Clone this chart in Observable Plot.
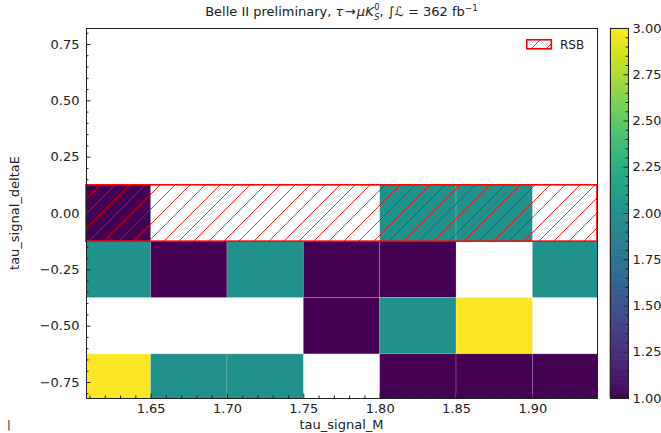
<!DOCTYPE html>
<html><head><meta charset="utf-8">
<script src="https://cdn.jsdelivr.net/npm/d3@7"></script>
<script src="https://cdn.jsdelivr.net/npm/@observablehq/plot@0.6"></script>
<style>
body{margin:0;background:#fff}
#wrap{position:relative;width:661px;height:433px;overflow:hidden;font-family:"DejaVu Sans",sans-serif;color:#222;background:#fff}
.plotsvg{position:absolute;top:0}
.t{position:absolute;white-space:nowrap;line-height:1}
.ss{display:inline-block;vertical-align:middle;font-size:0.64em;text-align:left;margin-left:0.5px}
.ss span{display:block;line-height:1.18}
</style></head><body><div id="wrap"></div>
<script>
// ---- data ----
const xEdges = [1.60, 1.65, 1.70, 1.75, 1.80, 1.85, 1.90, 1.95];
const yEdges = [0.125, -0.125, -0.375, -0.625, -0.875];
const row0 = [1, null, null, null, 2, 2, null];   // deltaE ~ 0.00
const row1 = [2, 1, 2, 1, 1, null, 2];            // deltaE ~ -0.25
const row2 = [null, null, null, 1, 2, 3, null];   // deltaE ~ -0.50
const row3 = [3, 2, 2, null, 1, 1, 1];            // deltaE ~ -0.75
const rows = [row0, row1, row2, row3];
const xTicks = [1.65, 1.70, 1.75, 1.80, 1.85, 1.90];
const yTicks = [-0.75, -0.5, -0.25, 0, 0.25, 0.5, 0.75];
const cbTicks = [1, 1.25, 1.5, 1.75, 2, 2.25, 2.5, 2.75, 3];
const xDomain = [1.6077, 1.9423];
const yDomain = [-0.821, 0.821];
const cDomain = [1, 3];
const rsbX = [1.6077, 1.9423];
const rsbY = [-0.125, 0.125];
const titleText = "Belle II preliminary, ";
const xLabel = "tau_signal_M";
const yLabel = "tau_signal_deltaE";
const legendLabel = "RSB";

// ---- build ----
const cells = [];
rows.forEach((r, i) => r.forEach((v, j) => {
  if (v != null) cells.push({x1: xEdges[j], x2: xEdges[j + 1], y1: yEdges[i + 1], y2: yEdges[i], v});
}));
const rsb = [{x1: rsbX[0], x2: rsbX[1], y1: rsbY[0], y2: rsbY[1]}];
const fmt = d3.format(".2f");
const xMinor = d3.range(161, 195).map(d => d / 100).filter(d => !xTicks.some(t => Math.abs(t - d) < 1e-9));
const yMinor = d3.range(-16, 17).map(d => d * 0.05).filter(d => !yTicks.some(t => Math.abs(t - d) < 1e-9));
const cbMinor = d3.range(20, 61).map(d => d * 0.05).filter(d => !cbTicks.some(t => Math.abs(t - d) < 1e-9));
const style = {fontFamily: "DejaVu Sans", fontSize: "13px", background: "transparent", color: "#222"};
const ink = "#222";

const main = Plot.plot({
  width: 661, height: 433, marginLeft: 86, marginRight: 64, marginTop: 28, marginBottom: 35,
  style,
  x: {domain: xDomain, axis: null, label: null},
  y: {domain: yDomain, axis: null, label: null},
  color: {type: "linear", scheme: "viridis", domain: cDomain},
  marks: [
    Plot.rect(cells, {x1: "x1", x2: "x2", y1: "y1", y2: "y2", fill: "v", stroke: "white", strokeOpacity: 0.22, strokeWidth: 0.8, clip: true}),
    Plot.rect(rsb, {x1: "x1", x2: "x2", y1: "y1", y2: "y2", fill: "url(#rsbHatch)", stroke: "red", strokeWidth: 1.6}),
    Plot.ruleX(xTicks, {x: d => d, y1: yDomain[0], y2: yDomain[0], insetTop: -4.5, stroke: ink}),
    Plot.ruleX(xMinor, {x: d => d, y1: yDomain[0], y2: yDomain[0], insetTop: -2.5, stroke: ink}),
    Plot.ruleY(yTicks, {y: d => d, x1: xDomain[0], x2: xDomain[0], insetRight: -4.5, stroke: ink}),
    Plot.ruleY(yMinor, {y: d => d, x1: xDomain[0], x2: xDomain[0], insetRight: -2.5, stroke: ink}),
    Plot.text(xTicks, {x: d => d, text: d => fmt(d), frameAnchor: "bottom", lineAnchor: "top", dy: 5, fill: ink}),
    Plot.text(yTicks, {y: d => d, text: d => fmt(d), frameAnchor: "left", textAnchor: "end", dx: -7, fill: ink}),
    Plot.frame({stroke: ink, strokeWidth: 1})
  ]
});
main.classList.add("plotsvg");
main.style.left = "0px";
const defs = d3.select(main).insert("defs", ":first-child");
const pat = defs.append("pattern").attr("id", "rsbHatch").attr("patternUnits", "userSpaceOnUse")
  .attr("width", 15).attr("height", 15);
pat.append("path").attr("d", "M-2,2 L2,-2 M0,15 L15,0 M13,17 L17,13")
  .attr("stroke", "red").attr("stroke-width", 1).attr("stroke-opacity", 0.85);

const step = (cDomain[1] - cDomain[0]) / 200;
const cbSteps = d3.range(0, 200).map(i => cDomain[0] + i * step);
const cb = Plot.plot({
  width: 61, height: 433, marginLeft: 10, marginRight: 33, marginTop: 28, marginBottom: 35,
  style,
  y: {domain: cDomain, axis: null, label: null},
  color: {type: "linear", scheme: "viridis", domain: cDomain},
  marks: [
    Plot.rect(cbSteps, {y1: d => d, y2: d => d + step, fill: d => d + step / 2, stroke: d => d + step / 2, strokeWidth: 0.6}),
    Plot.ruleY(cbTicks, {y: d => d, insetLeft: 13.5, stroke: ink}),
    Plot.ruleY(cbMinor, {y: d => d, insetLeft: 15.5, stroke: ink}),
    Plot.text(cbTicks, {y: d => d, text: d => fmt(d), frameAnchor: "right", textAnchor: "start", dx: 4, fill: ink}),
    Plot.frame({stroke: ink, strokeWidth: 1})
  ]
});
cb.classList.add("plotsvg");
cb.style.left = "600px";

const wrap = document.getElementById("wrap");
wrap.appendChild(main);
wrap.appendChild(cb);

const html = `
<div class="t" style="left:341.5px;top:3px;font-size:13px;transform:translateX(-50%)">${titleText}<i>τ</i>&#8202;→&#8202;<i>μK</i><span class="ss"><span>0</span><span><i>S</i></span></span>, ∫<i>ℒ</i> = 362 fb<sup style="font-size:0.68em;vertical-align:0.55em;line-height:0">−1</sup></div>
<div class="t" style="left:341.5px;top:418px;font-size:13px;transform:translateX(-50%)">${xLabel}</div>
<div class="t" style="left:14px;top:213px;font-size:13px;transform:translate(-50%,-50%) rotate(-90deg)">${yLabel}</div>
<div class="t" style="left:526px;top:39px"><svg width="27" height="12" style="display:block">
 <defs><pattern id="legHatch" patternUnits="userSpaceOnUse" width="15" height="15"><path d="M-2,2 L2,-2 M0,15 L15,0 M13,17 L17,13" stroke="red" stroke-width="1" stroke-opacity="0.85"/></pattern></defs>
 <rect x="0.8" y="0.8" width="24.5" height="9" fill="url(#legHatch)" stroke="red" stroke-width="1.6"/></svg></div>
<div class="t" style="left:560px;top:39px;font-size:12px">${legendLabel}</div>
<div class="t" style="left:7px;top:419px;font-size:11px;color:#222">|</div>`;
wrap.insertAdjacentHTML("beforeend", html);
</script></body></html>
